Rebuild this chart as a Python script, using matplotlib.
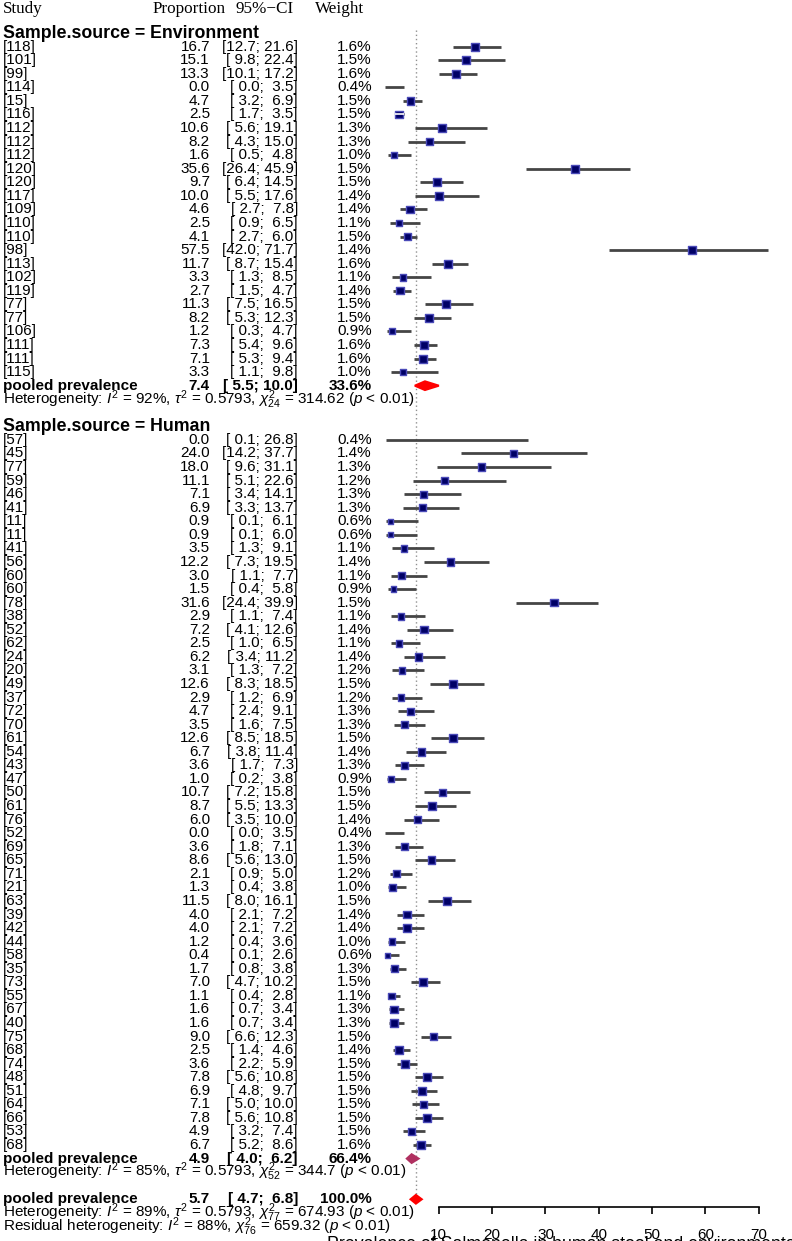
import matplotlib
matplotlib.use("Agg")
import matplotlib.pyplot as plt
import numpy as np

plt.rcParams['font.family'] = ['Liberation Sans', 'DejaVu Sans']
plt.rcParams['mathtext.fontset'] = 'custom'
plt.rcParams['mathtext.rm'] = 'Liberation Sans'
plt.rcParams['mathtext.it'] = 'Liberation Sans:italic'
plt.rcParams['mathtext.bf'] = 'Liberation Sans:bold'

# Environment studies
env_study = ["[118]", "[101]", "[99]", "[114]", "[15]", "[116]", "[112]", "[112]", "[112]",
             "[120]", "[120]", "[117]", "[109]", "[110]", "[110]", "[98]", "[113]", "[102]",
             "[119]", "[77]", "[77]", "[106]", "[111]", "[111]", "[115]"]
env_prop = [16.7, 15.1, 13.3, 0.0, 4.7, 2.5, 10.6, 8.2, 1.6, 35.6, 9.7, 10.0, 4.6, 2.5, 4.1,
            57.5, 11.7, 3.3, 2.7, 11.3, 8.2, 1.2, 7.3, 7.1, 3.3]
env_lo = [12.7, 9.8, 10.1, 0.0, 3.2, 1.7, 5.6, 4.3, 0.5, 26.4, 6.4, 5.5, 2.7, 0.9, 2.7,
          42.0, 8.7, 1.3, 1.5, 7.5, 5.3, 0.3, 5.4, 5.3, 1.1]
env_hi = [21.6, 22.4, 17.2, 3.5, 6.9, 3.5, 19.1, 15.0, 4.8, 45.9, 14.5, 17.6, 7.8, 6.5, 6.0,
          71.7, 15.4, 8.5, 4.7, 16.5, 12.3, 4.7, 9.6, 9.4, 9.8]
env_w = [1.6, 1.5, 1.6, 0.4, 1.5, 1.5, 1.3, 1.3, 1.0, 1.5, 1.5, 1.4, 1.4, 1.1, 1.5,
         1.4, 1.6, 1.1, 1.4, 1.5, 1.5, 0.9, 1.6, 1.6, 1.0]

# Human studies
hum_study = ["[57]", "[45]", "[77]", "[59]", "[46]", "[41]", "[11]", "[11]", "[41]", "[56]",
             "[60]", "[60]", "[78]", "[38]", "[52]", "[62]", "[24]", "[20]", "[49]", "[37]",
             "[72]", "[70]", "[61]", "[54]", "[43]", "[47]", "[50]", "[61]", "[76]", "[52]",
             "[69]", "[65]", "[71]", "[21]", "[63]", "[39]", "[42]", "[44]", "[58]", "[35]",
             "[73]", "[55]", "[67]", "[40]", "[75]", "[68]", "[74]", "[48]", "[51]", "[64]",
             "[66]", "[53]", "[68]"]
hum_prop = [0.0, 24.0, 18.0, 11.1, 7.1, 6.9, 0.9, 0.9, 3.5, 12.2, 3.0, 1.5, 31.6, 2.9, 7.2,
            2.5, 6.2, 3.1, 12.6, 2.9, 4.7, 3.5, 12.6, 6.7, 3.6, 1.0, 10.7, 8.7, 6.0, 0.0,
            3.6, 8.6, 2.1, 1.3, 11.5, 4.0, 4.0, 1.2, 0.4, 1.7, 7.0, 1.1, 1.6, 1.6, 9.0,
            2.5, 3.6, 7.8, 6.9, 7.1, 7.8, 4.9, 6.7]
hum_lo = [0.1, 14.2, 9.6, 5.1, 3.4, 3.3, 0.1, 0.1, 1.3, 7.3, 1.1, 0.4, 24.4, 1.1, 4.1,
          1.0, 3.4, 1.3, 8.3, 1.2, 2.4, 1.6, 8.5, 3.8, 1.7, 0.2, 7.2, 5.5, 3.5, 0.0,
          1.8, 5.6, 0.9, 0.4, 8.0, 2.1, 2.1, 0.4, 0.1, 0.8, 4.7, 0.4, 0.7, 0.7, 6.6,
          1.4, 2.2, 5.6, 4.8, 5.0, 5.6, 3.2, 5.2]
hum_hi = [26.8, 37.7, 31.1, 22.6, 14.1, 13.7, 6.1, 6.0, 9.1, 19.5, 7.7, 5.8, 39.9, 7.4, 12.6,
          6.5, 11.2, 7.2, 18.5, 6.9, 9.1, 7.5, 18.5, 11.4, 7.3, 3.8, 15.8, 13.3, 10.0, 3.5,
          7.1, 13.0, 5.0, 3.8, 16.1, 7.2, 7.2, 3.6, 2.6, 3.8, 10.2, 2.8, 3.4, 3.4, 12.3,
          4.6, 5.9, 10.8, 9.7, 10.0, 10.8, 7.4, 8.6]
hum_w = [0.4, 1.4, 1.3, 1.2, 1.3, 1.3, 0.6, 0.6, 1.1, 1.4, 1.1, 0.9, 1.5, 1.1, 1.4,
         1.1, 1.4, 1.2, 1.5, 1.2, 1.3, 1.3, 1.5, 1.4, 1.3, 0.9, 1.5, 1.5, 1.4, 0.4,
         1.3, 1.5, 1.2, 1.0, 1.5, 1.4, 1.4, 1.0, 0.6, 1.3, 1.5, 1.1, 1.3, 1.3, 1.5,
         1.4, 1.5, 1.5, 1.5, 1.5, 1.5, 1.5, 1.6]

# pooled estimates: environment, human, overall
pool_est = [7.4, 4.9, 5.7]
pool_lo = [5.5, 4.0, 4.7]
pool_hi = [10.0, 6.2, 6.8]
pool_w = ["33.6%", "66.4%", "100.0%"]
pool_col = ["red", "#b03060", "red"]

het_text = [r"Heterogeneity: $I^2$ = 92%, $\tau^2$ = 0.5793, $\chi^2_{24}$ = 314.62 ($p$ < 0.01)",
            r"Heterogeneity: $I^2$ = 85%, $\tau^2$ = 0.5793, $\chi^2_{52}$ = 344.7 ($p$ < 0.01)",
            r"Heterogeneity: $I^2$ = 89%, $\tau^2$ = 0.5793, $\chi^2_{77}$ = 674.93 ($p$ < 0.01)"]
resid_text = r"Residual heterogeneity: $I^2$ = 88%, $\chi^2_{76}$ = 659.32 ($p$ < 0.01)"

W, H = 792, 1241
X0, SCALE = 385.5, 5.333   # pixel of 0 and pixels per unit
ROW0, ROWH = 6.0, 13.56    # pixel of row 0 and row height


def px(p):
    return (p - X0) / SCALE


fig = plt.figure(figsize=(W / 100, H / 100), dpi=100)
ax = fig.add_axes([0, 0, 1, 1])
ax.set_xlim(px(0), px(W))
ax.set_ylim((H - ROW0) / ROWH, -ROW0 / ROWH)
ax.axis('off')

fs = 11
serif = ['Liberation Serif', 'DejaVu Serif']
hy = 0.2
ax.text(px(3), hy, "Study", family=serif, fontsize=12.3, va='center')
ax.text(px(189), hy, "Proportion", family=serif, fontsize=12.3, va='center', ha='center')
ax.text(px(265), hy, "95%\u2212CI", family=serif, fontsize=12.3, va='center', ha='center')
ax.text(px(340), hy, "Weight", family=serif, fontsize=12.3, va='center', ha='center')

ax.vlines(pool_est[2], 1.8, 88.4, colors='#909090', linestyles=(0, (1, 2)), lw=1)


def ci_str(lo, hi):
    return "[%4.1f; %4.1f]" % (lo, hi)


def draw_group(label, start, studies, prop, lo, hi, w, k):
    ax.text(px(3), start, label, fontsize=12.8, fontweight='bold', va='center')
    rows = np.arange(len(studies)) + start + 1
    for r, s, p, l, h, ww in zip(rows, studies, prop, lo, hi, w):
        ax.text(px(3), r, s, fontsize=fs, va='center')
        ax.text(px(210), r, "%.1f" % p, fontsize=fs, va='center', ha='right')
        ax.text(px(298), r, ci_str(l, h), fontsize=fs, va='center', ha='right')
        ax.text(px(372), r, "%.1f%%" % ww, fontsize=fs, va='center', ha='right')
    ax.hlines(rows, lo, hi, colors='#454545', lw=2.0, zorder=2)
    prop_a = np.array(prop)
    w_a = np.array(w)
    show = prop_a > 0
    side_pt = 6.3 * np.sqrt(w_a) * 0.72
    ax.scatter(prop_a[show], rows[show], s=side_pt[show] ** 2, marker='s',
               color='#000066', edgecolors='#4a4ab8', linewidths=1.0, zorder=3)
    inside = (np.array(hi) - np.array(lo)) < 2.0
    ax.hlines(rows[inside], np.array(lo)[inside], np.array(hi)[inside],
              colors='white', lw=1.2, zorder=4)
    pr = start + len(studies) + 1
    draw_pool(pr, k)
    ax.text(px(3), pr + 1, het_text[k], fontsize=fs, va='center')


def draw_pool(r, k):
    ax.text(px(3), r, "pooled prevalence", fontsize=fs, fontweight='bold', va='center')
    ax.text(px(210), r, "%.1f" % pool_est[k], fontsize=fs, fontweight='bold', va='center', ha='right')
    ax.text(px(298), r, ci_str(pool_lo[k], pool_hi[k]), fontsize=fs, fontweight='bold',
            va='center', ha='right')
    ax.text(px(372), r, pool_w[k], fontsize=fs, fontweight='bold', va='center', ha='right')
    d = 0.32
    ax.fill([pool_lo[k], pool_est[k], pool_hi[k], pool_est[k]], [r, r - d, r, r + d],
            color=pool_col[k], lw=1.5, ec=pool_col[k], zorder=3)


draw_group("Sample.source = Environment", 2, env_study, env_prop, env_lo, env_hi, env_w, 0)
draw_group("Sample.source = Human", 31, hum_study, hum_prop, hum_lo, hum_hi, hum_w, 1)
draw_pool(88, 2)
ax.text(px(3), 89, het_text[2], fontsize=fs, va='center')
ax.text(px(3), 90, resid_text, fontsize=fs, va='center')

# x axis
ax2 = fig.add_axes([(X0 + 10 * SCALE) / W, (H - 1207) / H, 60 * SCALE / W, 0.0001])
ax2.set_xlim(10, 70)
ax2.patch.set_visible(False)
for sp in ['top', 'left', 'right']:
    ax2.spines[sp].set_visible(False)
ax2.spines['bottom'].set_linewidth(1.2)
ax2.set_yticks([])
ax2.set_xticks(np.arange(10, 71, 10))
ax2.tick_params(axis='x', length=5, width=1.2, pad=10, labelsize=fs)
ax2.set_xlabel("Prevalence of Salmonella in human stool and environmental samples",
               fontsize=12.8, labelpad=-4)

fig.savefig("out.png", dpi=100)
